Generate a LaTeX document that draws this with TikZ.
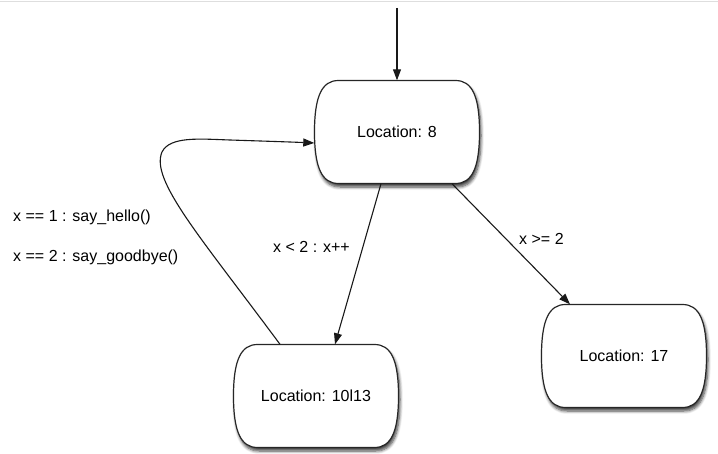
\documentclass[tikz,border=0pt]{standalone}
\usepackage{fontspec}
\setmainfont{Liberation Sans}
\usetikzlibrary{arrows.meta,shadows.blur}

\tikzset{
  locshape/.style={draw=black!85, line width=1.2pt, fill=white,
    blur shadow={shadow xshift=1.5pt, shadow yshift=-3.5pt,
      shadow blur radius=3pt, shadow blur steps=6, shadow opacity=75}},
  loctext/.style={inner sep=0pt, minimum width=165pt, minimum height=103pt,
    font=\fontsize{16}{19}\selectfont},
  edgelabel/.style={anchor=west, inner sep=0pt, font=\fontsize{16}{19}\selectfont},
  trans/.style={draw=black!90, line width=1.1pt,
    -{Triangle[length=11pt,width=8pt]}},
}

% a location: flat top and bottom, bulging sides, with a soft shadow
\newcommand\locnode[3]{%
  \path[locshape, shift={(#2)}]
    (-58.5,-51.5) -- (58.5,-51.5)
    .. controls (75,-51.5) and (82.5,-36) .. (82.5,0)
    .. controls (82.5,36) and (75,51.5) .. (58.5,51.5)
    -- (-58.5,51.5)
    .. controls (-75,51.5) and (-82.5,36) .. (-82.5,0)
    .. controls (-82.5,-36) and (-75,-51.5) .. (-58.5,-51.5) -- cycle;
  \node[loctext] (#1) at (#2) {#3};
}

\begin{document}
\begin{tikzpicture}[x=1pt, y=-1pt]
  \useasboundingbox (0,0) rectangle (718,454);
  \draw[black!13, line width=1pt] (0,2) -- (718,2);

  \locnode{loc8}{397,132}{Location: 8}
  \locnode{loc10}{316,396}{Location: 10l13}
  \locnode{loc17}{624,356}{Location: 17}

  \coordinate (entry) at (397,8);
  \draw[trans] (entry) -- (loc8.north);

  \draw[trans] ([xshift=-16pt]loc8.south) -- ([xshift=19pt]loc10.north);
  \draw[trans] ([xshift=55pt]loc8.south) -- ([xshift=-54pt]loc17.north);

  \draw[trans] ([xshift=-36pt]loc10.north)
    .. controls +(-80,-108) and +(-12,28) .. (162,152)
    .. controls +(8,-16) and +(-30,-1) .. (230,140)
    .. controls +(30,1) and +(-23,-1) .. ([yshift=-11pt]loc8.west);

  \node[edgelabel] (l1) at (13,217) {x == 1 : say\_hello()};
  \node[edgelabel] (l2) at (13,257) {x == 2 : say\_goodbye()};
  \node[edgelabel] (l3) at (273,247) {x < 2 : x++};
  \node[edgelabel] (l4) at (519,239) {x >= 2};
\end{tikzpicture}
\end{document}
